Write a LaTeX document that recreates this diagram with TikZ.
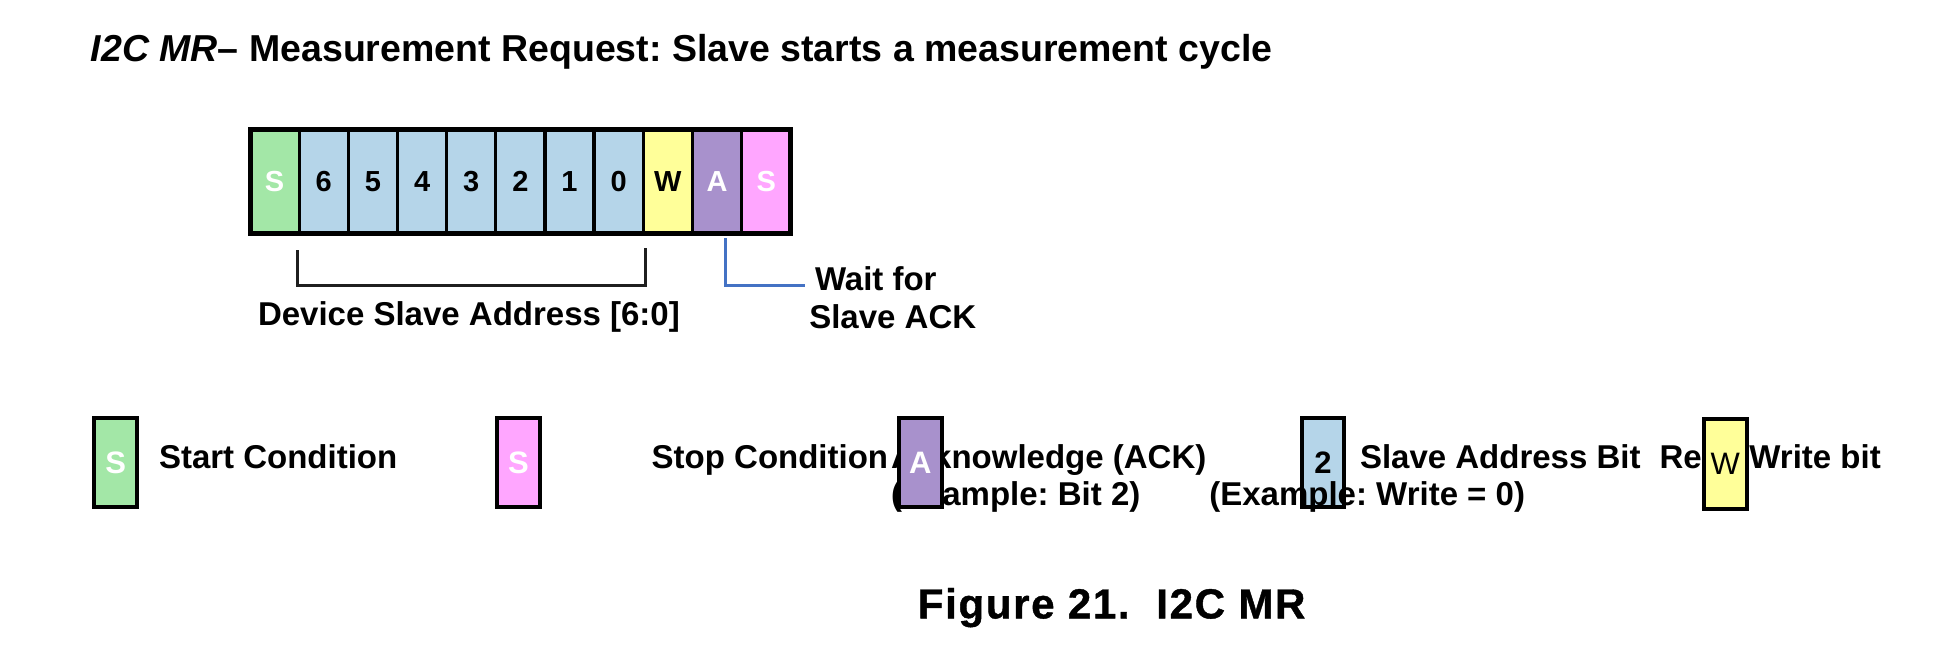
\documentclass[tikz,border=0pt]{standalone}
\usepackage{fontspec}
\setmainfont{Liberation Sans}
\newfontfamily\capfont{Liberation Sans Bold}[FakeBold=1,LetterSpace=4]
\definecolor{cgreen}{RGB}{163,231,167}
\definecolor{cblue}{RGB}{181,213,233}
\definecolor{cyellow}{RGB}{255,255,153}
\definecolor{cpurple}{RGB}{168,145,204}
\definecolor{cpink}{RGB}{255,166,255}
\definecolor{ackblue}{RGB}{68,114,196}
\frenchspacing
\begin{document}
\frenchspacing
\begin{tikzpicture}[x=1pt,y=-1pt,
  cell/.style={draw=black, line width=3.3pt, minimum width=49.16pt, minimum height=103.4pt,
    inner sep=0pt, outer sep=0pt, font=\fontsize{29}{29}\selectfont\bfseries},
  legbox/.style={draw=black, line width=4pt, minimum width=42.7pt, minimum height=89.3pt,
    inner sep=0pt, outer sep=0pt, font=\fontsize{31}{31}\selectfont\bfseries},
  txt/.style={anchor=base west, inner sep=0pt, outer sep=0pt, font=\fontsize{33}{38}\selectfont\bfseries\frenchspacing},
  bracketline/.style={draw=black!88, line width=2.7pt},
  ackline/.style={draw=ackblue, line width=3pt}]
\useasboundingbox (0,0) rectangle (1958,652);

% title
\node[anchor=base west, inner sep=0pt, font=\fontsize{37.5}{40}\selectfont\bfseries\frenchspacing] (title) at (90.7,61.7)
  {{\itshape I2C MR}\textendash{} Measurement Request: Slave starts a measurement cycle};

% frame cells
\foreach \i/\t/\c/\tc/\n in {0/S/cgreen/white/bS, 1/6/cblue/black/b6, 2/5/cblue/black/b5,
  3/4/cblue/black/b4, 4/3/cblue/black/b3, 5/2/cblue/black/b2, 6/1/cblue/black/b1,
  7/0/cblue/black/b0, 8/W/cyellow/black/bW, 9/A/cpurple/white/bA, 10/S/cpink/white/bP}
  \node[cell, fill=\c, text=\tc] (\n) at ({250+49.16*(\i+0.5)},181.5) {\t};
\draw[line width=5pt] (bS.north west) rectangle (bP.south east);

% bracket
\draw[bracketline] ([shift={(-2,17)}]b6.south west) -- ([shift={(-2,52)}]b6.south west)
  -- ([shift={(2,52)}]b0.south east) -- ([shift={(2,15)}]b0.south east);
\node[txt] (addr) at (258,325) {Device Slave Address [6:0]};

% ack wait
\node[txt] (wait1) at (815,290) {Wait for};
\node[txt] (wait2) at (809.3,328.3) {Slave ACK};
\coordinate (ackend) at (805,285.7);
\draw[ackline] ([shift={(8,5)}]bA.south) |- (ackend);

% legend texts (under boxes)
\node[txt] (lstart) at (159,468.3) {Start Condition};
\node[txt] (lstop) at (651.7,468.3) {Stop Condition};
\node[txt] (lack) at (891,468.3) {Acknowledge (ACK)};
\node[txt] (lackex) at (891,505) {(Example: Bit 2)};
\node[txt] (laddr) at (1360,468.3) {Slave Address Bit};
\node[txt] (lrw) at (1659.5,468.3) {Read/Write bit};

% legend boxes
\node[legbox, fill=cgreen, text=white] (kS) at (115.65,462.65) {S};
\node[legbox, fill=cpink, text=white] (kP) at (518.35,462.65) {S};
\node[legbox, fill=cpurple, text=white] (kA) at (920.3,462.65) {A};
\node[legbox, fill=cblue, text=black] (k2) at (1322.85,462.65) {2};
\node[legbox, fill=cyellow, text=black, font=\fontsize{31}{31}\selectfont\mdseries] (kW) at (1725.3,464) {W};

% text over box
\node[txt] (laddrex) at (1209.3,505) {(Example: Write = 0)};

% caption
\node[anchor=base west, inner sep=0pt, font=\fontsize{42}{44}\capfont] (caption) at (917.6,618.4)
  {Figure 21.\ \ I2C MR};
\end{tikzpicture}
\end{document}
